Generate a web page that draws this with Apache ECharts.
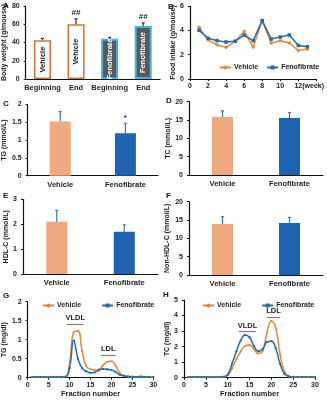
<!DOCTYPE html>
<html><head><meta charset="utf-8">
<script src="https://cdn.jsdelivr.net/npm/echarts@6/dist/echarts.min.js"></script>
<style>html,body{margin:0;padding:0;background:#fff}#c{width:327px;height:400px}</style>
</head><body><div id="c"></div>
<script>
// ---- Data ----
const bwCategories = ['Beginning', 'End', 'Beginning', 'End'];
const bwGroups = ['Vehicle', 'Vehicle', 'Fenofibrate', 'Fenofibrate'];
const bwMeans = [42.5, 60, 44, 58];
const bwErrs = [2, 6, 1.5, 3.5];
const bwSig = ['', '##', '', '##'];

const weeks = [1, 2, 3, 4, 5, 6, 7, 8, 9, 10, 11, 12, 13];
const foodVehicle = [4.25, 3.2, 2.8, 2.6, 3.1, 3.9, 2.62, 4.8, 2.96, 3.15, 2.96, 2.35, 2.46];
const foodFeno = [4.0, 3.35, 3.15, 3.04, 3.1, 3.6, 3.15, 4.8, 3.28, 3.45, 3.62, 2.76, 2.65];

const groups = ['Vehicle', 'Fenofibrate'];
const tgMeans = [1.52, 1.19];   const tgErrs = [0.28, 0.28];   const tgSig = ['', '*'];
const tcMeans = [15.8, 15.55];  const tcErrs = [1.7, 1.5];     const tcSig = ['', ''];
const hdlMeans = [2.1, 1.7];    const hdlErrs = [0.46, 0.28];  const hdlSig = ['', ''];
const nonHdlMeans = [13.9, 14.2]; const nonHdlErrs = [2.0, 1.5]; const nonHdlSig = ['', ''];

const fractions = [1,2,3,4,5,6,7,8,9,10,11,12,13,14,15,16,17,18,19,20,21,22,23,24,25,26,27,28,29,30];
const tgFplcVehicle = [0.02,0.02,0.02,0.02,0.02,0.02,0.02,0.02,0.03,0.35,1.2,1.23,0.7,0.3,0.22,0.2,0.22,0.32,0.42,0.43,0.32,0.12,0.05,0.03,0.03,0.02,0.04,0.02,0.01,0.01];
const tgFplcFeno = [0.02,0.02,0.02,0.02,0.02,0.02,0.02,0.02,0.02,0.25,0.98,0.5,0.25,0.17,0.13,0.14,0.2,0.23,0.22,0.2,0.15,0.08,0.05,0.03,0.02,0.02,0.02,0.02,0.02,0.02];
const tcFplcVehicle = [0.05,0.05,0.05,0.05,0.05,0.05,0.05,0.05,0.05,0.15,0.6,1.2,1.7,2.05,2.1,1.85,1.55,1.7,2.9,3.65,3.2,1.5,0.4,0.1,0.05,0.03,0.03,0.03,0.03,0.03];
const tcFplcFeno = [0.05,0.05,0.05,0.05,0.05,0.05,0.05,0.05,0.06,0.2,0.9,1.7,2.4,2.75,2.6,2.05,1.7,1.85,2.3,2.35,1.9,0.9,0.25,0.08,0.05,0.05,0.05,0.05,0.05,0.05];

// ---- Styles ----
const FONT = 'Liberation Sans, Arial, sans-serif';
const ORANGE = '#e0893f';
const BLUE = '#2a6aa5';
const BAR_V = '#f0a97e';
const BAR_F = '#1e63b0';
const ERR = '#2f78b8';

const lbl = {fontFamily: FONT, fontWeight: 'bold', fontSize: 7, color: '#222'};
function yAx(grid, min, max, interval, name, gap, fmt) {
  return {type: 'value', gridIndex: grid, min, max, interval,
    name, nameLocation: 'middle', nameGap: gap, nameRotate: 90,
    nameTextStyle: {fontFamily: FONT, fontWeight: 'bold', fontSize: 7, color: '#222'},
    axisLine: {show: true, lineStyle: {color: '#111', width: 1.2}},
    axisTick: {show: true, length: 2, lineStyle: {color: '#111'}},
    splitLine: {show: false},
    axisLabel: Object.assign({margin: 6, formatter: fmt}, lbl)};
}
function xCat(grid, data) {
  return {type: 'category', gridIndex: grid, data,
    axisLine: {lineStyle: {color: '#111', width: 1.2}},
    axisTick: {show: false},
    axisLabel: Object.assign({margin: 5, interval: 0}, lbl, {fontSize: 7.5})};
}
function xVal(grid, min, max, interval, fmt, name, rich) {
  return {type: 'value', gridIndex: grid, min, max, interval,
    name: name || '', nameLocation: 'middle', nameGap: 12,
    nameTextStyle: {fontFamily: FONT, fontWeight: 'bold', fontSize: 7.5, color: '#222'},
    axisLine: {lineStyle: {color: '#111', width: 1.2}},
    axisTick: {show: true, length: 2, lineStyle: {color: '#111'}},
    splitLine: {show: false},
    axisLabel: Object.assign({margin: 4, formatter: fmt, rich: rich}, lbl)};
}
function errSeries(idx, means, errs, sigs, color) {
  return {type: 'custom', xAxisIndex: idx, yAxisIndex: idx, z: 5,
    data: means.map((m, i) => [i, m, errs[i]]),
    renderItem: function (params, api) {
      const x = api.value(0), m = api.value(1), e = api.value(2);
      const b = api.coord([x, m]);
      const t = api.coord([x, m + e]);
      const children = [
        {type: 'line', shape: {x1: b[0], y1: b[1], x2: t[0], y2: t[1]}, style: {stroke: color, lineWidth: 1.2}},
        {type: 'line', shape: {x1: t[0] - 1.5, y1: t[1], x2: t[0] + 1.5, y2: t[1]}, style: {stroke: color, lineWidth: 1.2}}
      ];
      const s = sigs[params.dataIndex];
      if (s) children.push({type: 'text', style: {text: s, x: t[0], y: t[1] - 2, textAlign: 'center', textVerticalAlign: 'bottom', fontFamily: FONT, fontSize: 8, fontWeight: 'bold', fill: '#222'}});
      return {type: 'group', children};
    }};
}
function barSeries(idx, means) {
  return {type: 'bar', xAxisIndex: idx, yAxisIndex: idx, barWidth: 21,
    data: means.map((m, i) => ({value: m, itemStyle: {color: i === 0 ? BAR_V : BAR_F}}))};
}
function lineSeries(idx, name, data, xs, color, symbol, size, smooth) {
  return {type: 'line', name, xAxisIndex: idx, yAxisIndex: idx, smooth,
    data: data.map((v, i) => [xs[i], v]), symbol, symbolSize: size, showSymbol: true,
    lineStyle: {color, width: 1.5}, itemStyle: {color}};
}
function markLineFor(items) {
  return {silent: true, symbol: 'none', animation: false,
    lineStyle: {color: '#8e7485', width: 1.2, type: 'solid'},
    label: {show: true, position: 'middle', distance: 2, formatter: '{b}', fontFamily: FONT, fontWeight: 'bold', fontSize: 7.5, color: '#222'},
    data: items};
}

const grids = [
  {left: 25, top: 6, width: 135, height: 73},     // A
  {left: 190, top: 6, width: 131.6, height: 73},  // B
  {left: 24, top: 104.5, width: 134, height: 71.2}, // C
  {left: 189, top: 101.7, width: 134, height: 73.3}, // D
  {left: 23, top: 199.5, width: 135, height: 74.5}, // E
  {left: 189, top: 201.7, width: 134, height: 73.3}, // F
  {left: 25, top: 301.7, width: 128.3, height: 76}, // G
  {left: 184, top: 300, width: 131, height: 77.7}   // H
];

const weekRich = {h: {color: 'rgba(0,0,0,0)', fontFamily: FONT, fontWeight: 'bold', fontSize: 7}};

const option = {
  animation: false,
  backgroundColor: '#fff',
  textStyle: {fontFamily: FONT},
  grid: grids,
  legend: [
    {left: 214, top: 59, itemWidth: 11, itemHeight: 5, itemGap: 8, data: groups,
      textStyle: {fontFamily: FONT, fontWeight: 'bold', fontSize: 7, color: '#222', padding: [0, 0, 0, -2]}},
    {left: 37, top: 297, itemWidth: 11, itemHeight: 5, itemGap: 20, data: groups,
      textStyle: {fontFamily: FONT, fontWeight: 'bold', fontSize: 7, color: '#222', padding: [0, 0, 0, -2]}},
    {left: 197, top: 297, itemWidth: 11, itemHeight: 5, itemGap: 20, data: groups,
      textStyle: {fontFamily: FONT, fontWeight: 'bold', fontSize: 7, color: '#222', padding: [0, 0, 0, -2]}}
  ],
  xAxis: [
    xCat(0, bwCategories),
    xVal(1, 0, 14, 2, v => v === 14 ? '' : (v === 12 ? '{h|(week)}12(week)' : String(v)), '', weekRich),
    xCat(2, groups), xCat(3, groups), xCat(4, groups), xCat(5, groups),
    xVal(6, 0, 30, 5, null, 'Fraction number'),
    xVal(7, 0, 30, 5, null, 'Fraction number')
  ],
  yAxis: [
    yAx(0, 0, 80, 20, 'Body weight (g/mouse)', 15),
    yAx(1, 0, 6, 2, 'Food intake (g/mouse)', 12),
    yAx(2, 0, 2, 0.5, 'TG (mmol/L)', 14),
    yAx(3, 0, 20, 5, 'TC (mmol/L)', 13),
    yAx(4, 0, 3, 1, 'HDL-C (mmol/L)', 12),
    yAx(5, 0, 20, 5, 'Non-HDL-C (mmol/L)', 18),
    yAx(6, 0, 2, 0.5, 'TG (mg/dl)', 14),
    yAx(7, 0, 5, 1, 'TC (mg/dl)', 10)
  ],
  series: [
    {type: 'bar', xAxisIndex: 0, yAxisIndex: 0, barWidth: 17,
      data: bwMeans.map((m, i) => ({value: m,
        itemStyle: bwGroups[i] === 'Vehicle' ? {color: '#fff', borderColor: '#d8703a', borderWidth: 1.5} : {color: '#58595b', borderColor: '#3fb3e3', borderWidth: 2},
        label: {show: true, position: 'inside', rotate: 90, formatter: bwGroups[i], fontFamily: FONT, fontWeight: 'bold', fontSize: 7.5,
          color: bwGroups[i] === 'Vehicle' ? '#111' : '#fff'}}))},
    errSeries(0, bwMeans, bwErrs, bwSig, '#333'),
    lineSeries(1, 'Vehicle', foodVehicle, weeks, ORANGE, 'circle', 3.5, false),
    lineSeries(1, 'Fenofibrate', foodFeno, weeks, BLUE, 'rect', 3.5, false),
    barSeries(2, tgMeans), errSeries(2, tgMeans, tgErrs, tgSig, ERR),
    barSeries(3, tcMeans), errSeries(3, tcMeans, tcErrs, tcSig, ERR),
    barSeries(4, hdlMeans), errSeries(4, hdlMeans, hdlErrs, hdlSig, ERR),
    barSeries(5, nonHdlMeans), errSeries(5, nonHdlMeans, nonHdlErrs, nonHdlSig, ERR),
    Object.assign(lineSeries(6, 'Vehicle', tgFplcVehicle, fractions, ORANGE, 'circle', 2, true),
      {markLine: markLineFor([[{coord: [9.4, 1.41], name: 'VLDL'}, {coord: [13.3, 1.41]}], [{coord: [17.5, 0.59], name: 'LDL'}, {coord: [21, 0.59]}]])}),
    lineSeries(6, 'Fenofibrate', tgFplcFeno, fractions, BLUE, 'rect', 2, true),
    Object.assign(lineSeries(7, 'Vehicle', tcFplcVehicle, fractions, ORANGE, 'circle', 2, true),
      {markLine: markLineFor([[{coord: [12.6, 2.96], name: 'VLDL'}, {coord: [16.5, 2.96]}], [{coord: [19, 3.89], name: 'LDL'}, {coord: [22, 3.89]}]])}),
    lineSeries(7, 'Fenofibrate', tcFplcFeno, fractions, BLUE, 'rect', 2, true)
  ],
  graphic: [
    ['A', 3, 6], ['B', 168, 7], ['C', 3, 104], ['D', 166, 101], ['E', 3, 196], ['F', 166, 196], ['G', 3, 296], ['H', 163, 295]
  ].map(([t, x, y]) => ({type: 'text', x, y, style: {text: t, fontFamily: FONT, fontWeight: 'bold', fontSize: 8, fill: '#111', textVerticalAlign: 'middle'}}))
};

const chart = echarts.init(document.getElementById('c'), null, {renderer: 'canvas'});
chart.setOption(option);
</script>
</body></html>
